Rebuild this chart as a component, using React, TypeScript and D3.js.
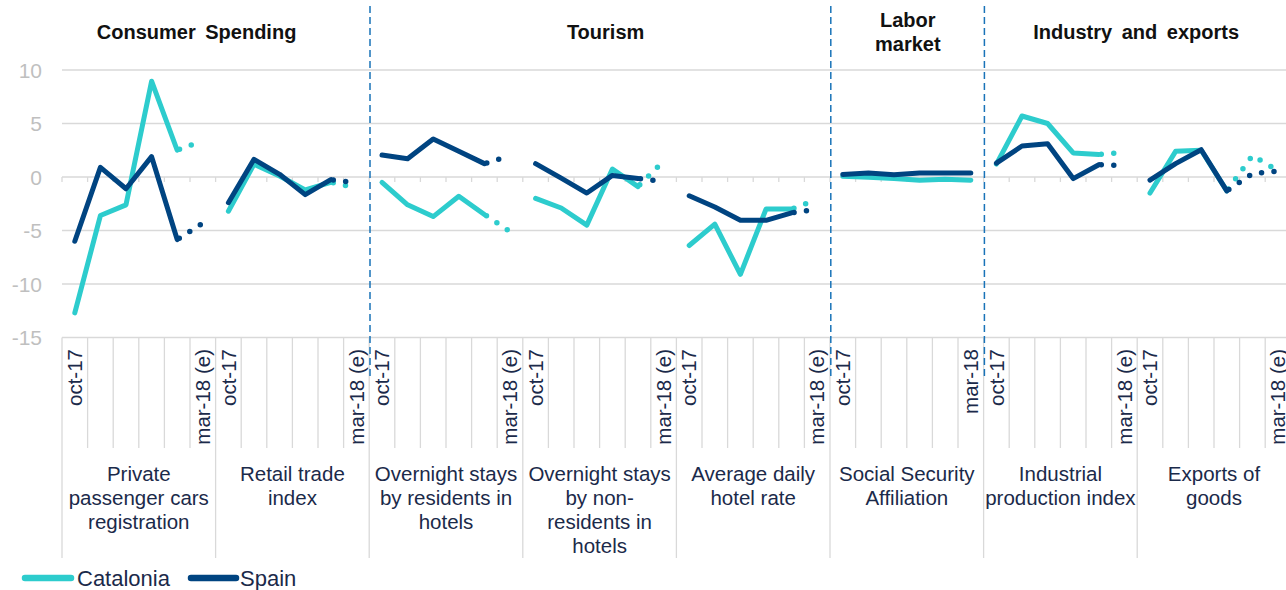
import React from 'react';
import * as d3 from 'd3';

// ---------- DATA ----------
const MONTHS = ['oct-17', 'nov-17', 'dec-17', 'jan-18', 'feb-18', 'mar-18'];
const FIRST_LABEL = 'oct-17';
const LAST_LABELS = ['mar-18 (e)', 'mar-18 (e)', 'mar-18 (e)', 'mar-18 (e)', 'mar-18 (e)', 'mar-18', 'mar-18 (e)', 'mar-18 (e)'];

const GROUP_LABELS = [
  ['Private', 'passenger cars', 'registration'],
  ['Retail trade', 'index'],
  ['Overnight stays', 'by residents in', 'hotels'],
  ['Overnight stays', 'by non-', 'residents in', 'hotels'],
  ['Average daily', 'hotel rate'],
  ['Social Security', 'Affiliation'],
  ['Industrial', 'production index'],
  ['Exports of', 'goods'],
];

const SECTION_TITLES = [
  ['Consumer Spending'],
  ['Tourism'],
  ['Labor', 'market'],
  ['Industry and exports'],
];
const SECTION_FIRST_GROUP = [0, 2, 5, 6];
const SECTION_LAST_GROUP = [1, 4, 5, 7];

const SERIES_NAMES = ['Catalonia', 'Spain'];

// values per group: oct, nov, dec, jan, feb, mar
const CATALONIA = [
  [-12.7, -3.6, -2.6, 8.95, 2.5, 3.4],
  [-3.2, 1.2, 0.1, -1.2, -0.5, -1.0],
  [-0.5, -2.6, -3.7, -1.8, -3.5, -5.1],
  [-2.0, -2.9, -4.5, 0.75, -0.9, 1.5],
  [-6.4, -4.4, -9.1, -3.0, -3.0, -2.1],
  [0.08, -0.03, -0.14, -0.3, -0.2, -0.3],
  [1.2, 5.7, 5.0, 2.25, 2.1, 2.3],
  [-1.5, 2.4, 2.5, -1.3, 2.0, 0.6],
];
const SPAIN = [
  [-6.0, 0.9, -1.1, 1.9, -5.85, -4.3],
  [-2.4, 1.65, 0.25, -1.65, -0.25, -0.55],
  [2.05, 1.7, 3.55, 2.4, 1.25, 2.0],
  [1.25, -0.1, -1.5, 0.15, -0.15, -0.4],
  [-1.75, -2.8, -4.05, -4.05, -3.35, -3.0],
  [0.23, 0.38, 0.2, 0.38, 0.38, 0.38],
  [1.3, 2.9, 3.1, -0.15, 1.15, 1.05],
  [-0.3, 1.25, 2.55, -1.3, 0.3, 0.55],
];
// index from which the series is an estimate (dotted)
const EST_START_CAT = [4, 4, 4, 4, 4, 5, 4, 3];
const EST_START_SPAIN = [4, 4, 4, 4, 4, 5, 4, 3];

const Y_TICKS = [10, 5, 0, -5, -10, -15];

// ---------- STYLE ----------
const W = 1286;
const H = 590;
const PLOT_LEFT = 62;
const BAND = 25.6;
const COL_CAT = '#2DCCCD';
const COL_SPAIN = '#004481';
const TEXT = '#1b2a4a';
const GRID = '#d9d9d9';
const SEP = '#1973B8';
const FONT = '"Liberation Sans", Arial, sans-serif';
const TITLE_OFFSETS = [-19, 6, 1, -1];

export default function App() {
  const nGroups = GROUP_LABELS.length;
  const keys: string[] = [];
  for (let g = 0; g < nGroups; g++) for (let i = 0; i < MONTHS.length; i++) keys.push(`${g}-${i}`);
  const x = d3.scaleBand<string>().domain(keys).range([PLOT_LEFT, PLOT_LEFT + keys.length * BAND]).padding(0);
  const gx = d3.scaleBand<number>().domain(d3.range(nGroups)).range([PLOT_LEFT, PLOT_LEFT + keys.length * BAND]).padding(0);
  const y = d3.scaleLinear().domain([-15, 10]).range([337.5, 70]);
  const xEnd = PLOT_LEFT + keys.length * BAND;
  const cx = (g: number, i: number) => (x(`${g}-${i}`) as number) + x.bandwidth() / 2;

  const line = d3.line<[number, number]>().x(d => d[0]).y(d => d[1]);

  const seriesPaths = (data: number[][], est: number[], color: string, name: string) => {
    const out: React.ReactNode[] = [];
    data.forEach((vals, g) => {
      const pts: [number, number][] = vals.map((v, i) => [cx(g, i), y(v)]);
      const solid = pts.slice(0, est[g] + 1);
      out.push(
        <path key={`${name}-s-${g}`} d={line(solid) || ''} fill="none" stroke={color} strokeWidth={5}
          strokeLinejoin="round" strokeLinecap="round" />
      );
      if (est[g] < pts.length - 1) {
        const dotted = pts.slice(est[g]).map(p => [p[0], p[1]] as [number, number]);
        const a = dotted[dotted.length - 2];
        const b = dotted[dotted.length - 1];
        const len = Math.hypot(b[0] - a[0], b[1] - a[1]);
        const t = 2.5 / len;
        dotted[dotted.length - 1] = [b[0] - (b[0] - a[0]) * t, b[1] - (b[1] - a[1]) * t];
        out.push(
          <path key={`${name}-d-${g}`} d={line(dotted) || ''} fill="none" stroke={color} strokeWidth={5.5}
            strokeLinecap="round" strokeDasharray="0 12.5" strokeDashoffset={10} />
        );
      }
    });
    return out;
  };

  const sepGroups = [2, 5, 6];

  return (
    <svg width={W} height={H} style={{ position: 'absolute', left: 0, top: 0, background: '#fff' }}
      fontFamily={FONT}>
      {Y_TICKS.map(t => (
        <line key={`g${t}`} x1={PLOT_LEFT} x2={xEnd} y1={y(t)} y2={y(t)} stroke={GRID} strokeWidth={1.3} />
      ))}
      {d3.range(keys.length + 1).map(k => (
        <line key={`zt${k}`} x1={PLOT_LEFT + k * x.bandwidth()} x2={PLOT_LEFT + k * x.bandwidth()}
          y1={y(0)} y2={y(0) + 5} stroke={GRID} strokeWidth={1.3} />
      ))}
      {d3.range(keys.length + 1).map(k => {
        const xx = PLOT_LEFT + k * x.bandwidth();
        const isGroup = k % MONTHS.length === 0;
        return (
          <line key={`ct${k}`} x1={xx} x2={xx} y1={y(-15)} y2={isGroup ? 558 : 448} stroke={GRID} strokeWidth={1.3} />
        );
      })}
      {Y_TICKS.map(t => (
        <text key={`yl${t}`} x={42} y={y(t)} dy="0.36em" textAnchor="end" fontSize={21} fill="#bfbfbf">{t}</text>
      ))}
      {GROUP_LABELS.map((_, g) => (
        <g key={`ml${g}`}>
          <text transform={`translate(${cx(g, 0)},349) rotate(-90)`} dy="0.35em" textAnchor="end" fontSize={20.5} fill={TEXT}>{FIRST_LABEL}</text>
          <text transform={`translate(${cx(g, MONTHS.length - 1)},349) rotate(-90)`} dy="0.35em" textAnchor="end" fontSize={20.5} fill={TEXT}>{LAST_LABELS[g]}</text>
        </g>
      ))}
      {GROUP_LABELS.map((lines, g) => (
        <text key={`gl${g}`} textAnchor="middle" fontSize={20.5} fill={TEXT}>
          {lines.map((l, j) => (
            <tspan key={j} x={(gx(g) as number) + gx.bandwidth() / 2} y={481 + j * 24}>{l}</tspan>
          ))}
        </text>
      ))}
      {sepGroups.map(g => (
        <line key={`sep${g}`} x1={(gx(g) as number) + 0.8} x2={(gx(g) as number) + 0.8} y1={6} y2={376}
          stroke={SEP} strokeWidth={1.5} strokeDasharray="7 4" />
      ))}
      {SECTION_TITLES.map((lines, s) => {
        const x0 = gx(SECTION_FIRST_GROUP[s]) as number;
        const x1 = (gx(SECTION_LAST_GROUP[s]) as number) + gx.bandwidth();
        const mid = (x0 + x1) / 2 + TITLE_OFFSETS[s];
        const baseY = lines.length > 1 ? 27 : 39;
        return (
          <text key={`st${s}`} textAnchor="middle" fontSize={20} fontWeight="bold" fill="#111" wordSpacing={4}>
            {lines.map((l, j) => (
              <tspan key={j} x={mid} y={baseY + j * 24}>{l}</tspan>
            ))}
          </text>
        );
      })}
      {seriesPaths(CATALONIA, EST_START_CAT, COL_CAT, 'cat')}
      {seriesPaths(SPAIN, EST_START_SPAIN, COL_SPAIN, 'spa')}
      <line x1={25} x2={71} y1={578} y2={578} stroke={COL_CAT} strokeWidth={6.5} strokeLinecap="round" />
      <text x={77} y={586} fontSize={22} fill={TEXT}>{SERIES_NAMES[0]}</text>
      <line x1={191} x2={236} y1={578} y2={578} stroke={COL_SPAIN} strokeWidth={6.5} strokeLinecap="round" />
      <text x={240} y={586} fontSize={22} fill={TEXT}>{SERIES_NAMES[1]}</text>
    </svg>
  );
}
